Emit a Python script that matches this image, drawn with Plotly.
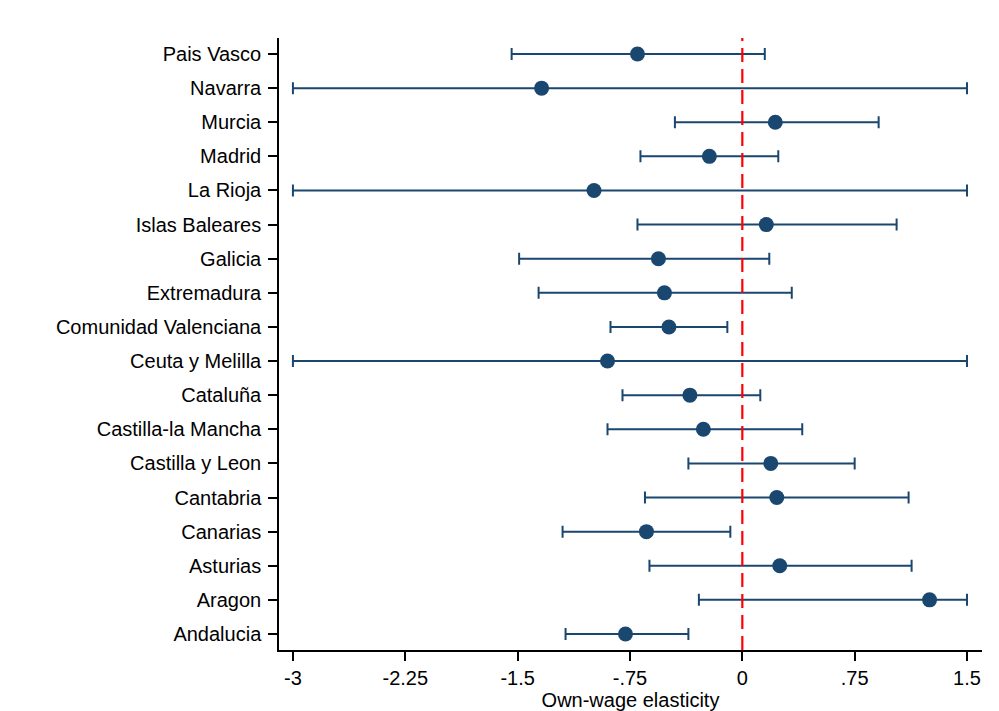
import plotly.graph_objects as go

regions = ["Andalucia", "Aragon", "Asturias", "Canarias", "Cantabria", "Castilla y Leon",
           "Castilla-la Mancha", "Cataluña", "Ceuta y Melilla", "Comunidad Valenciana",
           "Extremadura", "Galicia", "Islas Baleares", "La Rioja", "Madrid", "Murcia",
           "Navarra", "Pais Vasco"]
estimate = [-0.78, 1.25, 0.25, -0.64, 0.23, 0.19, -0.26, -0.35, -0.90, -0.49,
            -0.52, -0.56, 0.16, -0.99, -0.22, 0.22, -1.34, -0.70]
lower = [-1.18, -0.29, -0.62, -1.20, -0.65, -0.36, -0.90, -0.80, -3.0, -0.88,
         -1.36, -1.49, -0.70, -3.0, -0.68, -0.45, -3.0, -1.54]
upper = [-0.36, 1.5, 1.13, -0.08, 1.11, 0.75, 0.40, 0.12, 1.5, -0.10,
         0.33, 0.18, 1.03, 1.5, 0.24, 0.91, 1.5, 0.15]
xticks = [-3, -2.25, -1.5, -0.75, 0, 0.75, 1.5]
xticklabels = ["-3", "-2.25", "-1.5", "-.75", "0", ".75", "1.5"]

navy = "#1a476f"
ypos = list(range(len(regions)))

fig = go.Figure()
fig.add_trace(go.Scatter(
    x=estimate, y=ypos, mode="markers",
    marker=dict(color=navy, size=15),
    error_x=dict(type="data", symmetric=False,
                 array=[u - e for u, e in zip(upper, estimate)],
                 arrayminus=[e - l for e, l in zip(estimate, lower)],
                 color=navy, thickness=2, width=6),
    showlegend=False,
))
fig.add_shape(type="line", x0=0, x1=0, y0=0, y1=1, xref="x", yref="paper",
              line=dict(color="#ff0000", width=2.2, dash="14px,7px"), layer="above")

fig.update_layout(
    width=999, height=711,
    margin=dict(l=271, r=25, t=30, b=69),
    plot_bgcolor="white", paper_bgcolor="white",
    font=dict(family="Liberation Sans, Arial, sans-serif", size=20, color="black"),
    xaxis=dict(range=[-3.093, 1.60], tickvals=xticks, ticktext=xticklabels,
               showgrid=False, zeroline=False, showline=True, linecolor="black",
               linewidth=1.5, ticks="outside", ticklen=9, tickwidth=1.5, tickcolor="black",
               title=dict(text="Own-wage elasticity", standoff=2, font=dict(size=20))),
    yaxis=dict(range=[-0.47, 17.47], tickvals=ypos, ticktext=regions,
               showgrid=False, zeroline=False, showline=True, linecolor="black",
               linewidth=1.5, ticks="outside", ticklen=9, tickwidth=1.5, tickcolor="black",
               ticklabelstandoff=3),
)
fig.write_html("out.html")
